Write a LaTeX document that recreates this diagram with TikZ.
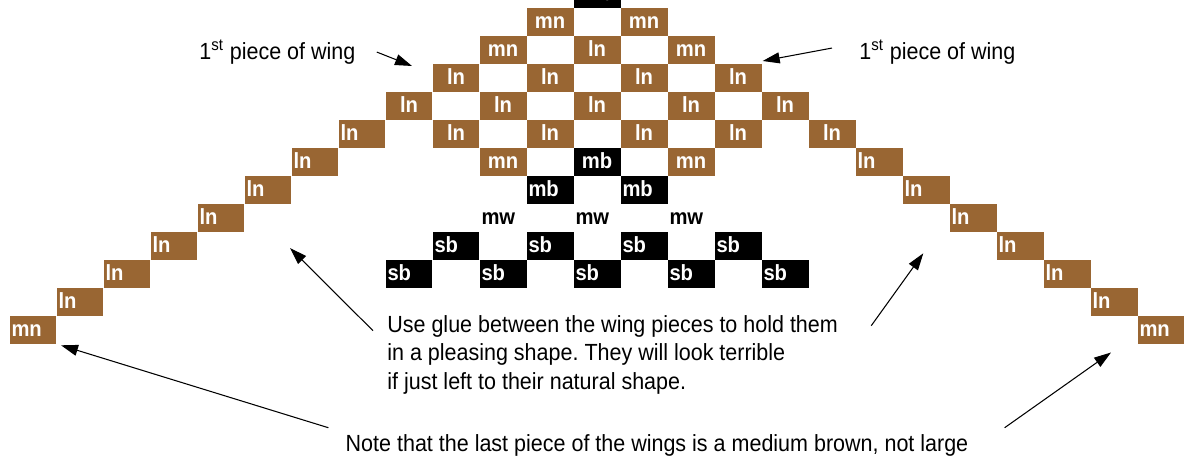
\documentclass[tikz,border=0pt]{standalone}
\usepackage{fontspec}
\setmainfont[FakeStretch=0.92]{Liberation Sans}
\usetikzlibrary{arrows.meta}
\frenchspacing
\definecolor{piecebrown}{HTML}{996633}
\tikzset{
  piece/.style={fill=piecebrown, text=white, font=\fontsize{12.5}{13}\selectfont\bfseries,
    minimum width=0.94cm, minimum height=0.56cm, inner sep=0pt, outer sep=0pt,
    text height=0.41cm, text depth=0.15cm},
  blackpiece/.style={piece, fill=black},
  flush/.style={text width=0.86cm, align=left, inner xsep=0.04cm},
  whitepiece/.style={piece, fill=none, text=black},
  remark/.style={font=\fontsize{13.3}{15.94}\selectfont, inner sep=0pt},
  pointer/.style={-{Triangle[length=0.34cm,width=0.22cm]}, line width=0.6pt}
}
\begin{document}
\begin{tikzpicture}[x=0.02cm, y=-0.02cm]
  \useasboundingbox (0,0) rectangle (1184,456);
  % body, centred labels
  \foreach \r/\k/\t in {1/-1/mn, 1/1/mn, 2/-2/mn, 2/0/ln, 2/2/mn,
      3/-3/ln, 3/-1/ln, 3/1/ln, 3/3/ln, 4/-4/ln, 4/-2/ln, 4/0/ln, 4/2/ln, 4/4/ln,
      5/-3/ln, 5/-1/ln, 5/1/ln, 5/3/ln, 5/5/ln, 6/-2/mn, 6/2/mn}
    \node[piece] (p\r_\k) at ({597+47*\k}, {-6+28*\r}) {\t};
  % medium black
  \node[blackpiece] (p0_0) at (597,-6) {mb};
  \node[blackpiece] (p6_0) at (597,162) {mb};
  \foreach \k in {-1,1}
    \node[blackpiece, flush] (p7_\k) at ({597+47*\k},190) {mb};
  % left wing
  \foreach \r in {5,...,11}
    \node[piece, flush] (p\r_-\r) at ({597-47*\r}, {-6+28*\r}) {ln};
  \node[piece, flush] (p12_-12) at (33,330) {mn};
  % right wing
  \foreach \r in {6,...,11}
    \node[piece, flush] (p\r_\r) at ({597+47*\r}, {-6+28*\r}) {ln};
  \node[piece, flush] (p12_12) at (1161,330) {mn};
  % medium white
  \foreach \k in {-2,0,2}
    \node[whitepiece, flush] (p8_\k) at ({597+47*\k},218) {mw};
  % small black
  \foreach \k in {-3,-1,1,3}
    \node[blackpiece, flush] (p9_\k) at ({597+47*\k},246) {sb};
  \foreach \k in {-4,-2,...,4}
    \node[blackpiece, flush] (p10_\k) at ({597+47*\k},274) {sb};
  % remarks
  \node[remark, anchor=base west] (wingL) at (199,59.5) {1\textsuperscript{st} piece of wing};
  \node[remark, anchor=base west] (wingR) at (859,59.5) {1\textsuperscript{st} piece of wing};
  \node[remark, anchor=base west, align=left] (glue) at (387,389)
    {Use glue between the wing pieces to hold them\\
     in a pleasing shape. They will look terrible\\
     if just left to their natural shape.};
  \node[remark, anchor=base] (note) at (657,451)
    {Note that the last piece of the wings is a medium brown, not large};
  % arrow tips
  \coordinate (tipL) at (412,66);
  \coordinate (tipR) at (762.7,61);
  \coordinate (tipGL) at (290,248);
  \coordinate (tipGR) at (923.3,253.3);
  \coordinate (tipNL) at (61,345.3);
  \coordinate (tipNR) at (1111,352.5);
  % arrows
  \draw[pointer] ([xshift=12]wingL.east) -- (tipL);
  \draw[pointer] ([shift={(-27,-4)}]wingR.west) -- (tipR);
  \draw[pointer] ([shift={(-14,15)}]glue.north west) -- (tipGL);
  \draw[pointer] ([shift={(33,10)}]glue.north east) -- (tipGR);
  \draw[pointer] ([shift={(-17,-6)}]note.north west) -- (tipNL);
  \draw[pointer] ([shift={(36,-6)}]note.north east) -- (tipNR);
\end{tikzpicture}
\end{document}
